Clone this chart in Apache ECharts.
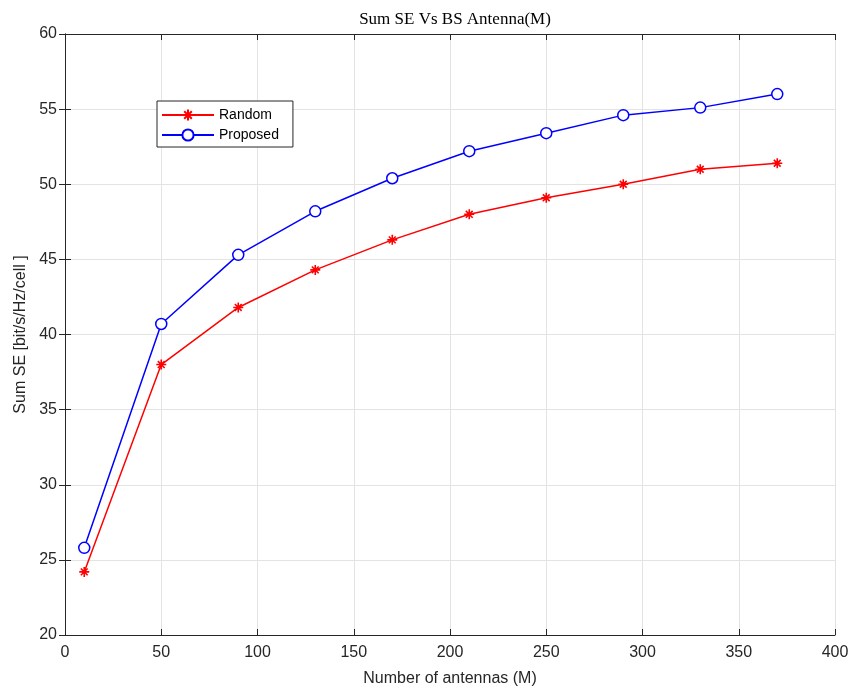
<!DOCTYPE html>
<html>
<head>
<meta charset="utf-8">
<script src="https://cdn.jsdelivr.net/npm/echarts@6/dist/echarts.min.js"></script>
<style>
  html, body { margin: 0; padding: 0; background: #fff; }
  #chart { width: 854px; height: 692px; }
</style>
</head>
<body>
<div id="chart"></div>
<script>
// antennas M
var antennas = [10, 50, 90, 130, 170, 210, 250, 290, 330, 370]
// sum SE per scheme
var randomSE = [24.2, 38.0, 41.8, 44.3, 46.3, 48.0, 49.1, 50.0, 51.0, 51.4]
var proposedSE = [25.8, 40.7, 45.3, 48.2, 50.4, 52.2, 53.4, 54.6, 55.1, 56.0]

var asterisk = 'path://M5,0L5,10M0,5L10,5M1.6,1.6L8.4,8.4M1.6,8.4L8.4,1.6'

function pairs(xs, ys) {
  return xs.map(function (x, i) { return [x, ys[i]] })
}

var axisCol = '#262626'
var chart = echarts.init(document.getElementById('chart'))

var option = {
  backgroundColor: '#fff',
  animation: false,
  title: {
    text: 'Sum SE Vs BS Antenna(M)',
    left: 450,
    textAlign: 'center',
    top: 6,
    textStyle: { fontFamily: 'Liberation Serif', fontWeight: 'normal', fontSize: 17, color: '#000' }
  },
  legend: {
    left: 157,
    top: 101,
    orient: 'vertical',
    itemWidth: 52,
    itemHeight: 14,
    itemGap: 6,
    padding: [7, 14, 5, 4],
    borderColor: '#262626',
    borderWidth: 1,
    backgroundColor: '#fff',
    textStyle: { fontFamily: 'Liberation Sans', fontSize: 14, color: '#000' },
    data: ['Random', 'Proposed']
  },
  grid: { left: 65, right: 19, top: 34, bottom: 56 },
  xAxis: [{
    type: 'value',
    min: 0, max: 400, interval: 50,
    name: 'Number of antennas (M)',
    nameLocation: 'middle',
    nameGap: 36,
    nameTextStyle: { fontFamily: 'Liberation Sans', fontSize: 16, color: axisCol },
    axisLine: { onZero: false, lineStyle: { color: axisCol } },
    axisTick: { inside: true, length: 6, lineStyle: { color: axisCol } },
    axisLabel: { fontFamily: 'Liberation Sans', fontSize: 16, color: axisCol, margin: 10 },
    splitLine: { show: true, lineStyle: { color: '#e3e3e3' } }
  }, {
    type: 'value', position: 'top',
    min: 0, max: 400, interval: 50,
    axisLine: { show: true, lineStyle: { color: axisCol } },
    axisTick: { inside: true, length: 6, lineStyle: { color: axisCol } },
    axisLabel: { show: false },
    splitLine: { show: false }
  }],
  yAxis: [{
    type: 'value',
    min: 20, max: 60, interval: 5,
    name: 'Sum SE [bit/s/Hz/cell ]',
    nameLocation: 'middle',
    nameGap: 35,
    nameTextStyle: { fontFamily: 'Liberation Sans', fontSize: 16, color: axisCol },
    axisLine: { show: true, lineStyle: { color: axisCol } },
    axisTick: { inside: true, length: 6, lineStyle: { color: axisCol } },
    axisLabel: { fontFamily: 'Liberation Sans', fontSize: 16, color: axisCol, margin: 8 },
    splitLine: { show: true, lineStyle: { color: '#e3e3e3' } }
  }, {
    type: 'value', position: 'right',
    min: 20, max: 60, interval: 5,
    axisLine: { show: true, lineStyle: { color: axisCol } },
    axisTick: { inside: true, length: 6, lineStyle: { color: axisCol } },
    axisLabel: { show: false },
    splitLine: { show: false }
  }],
  series: [{
    name: 'Random',
    type: 'line',
    data: pairs(antennas, randomSE),
    symbol: asterisk,
    symbolSize: 10,
    lineStyle: { color: '#ff0000', width: 1.5 },
    itemStyle: { color: '#ff0000', borderColor: '#ff0000', borderWidth: 1.6 }
  }, {
    name: 'Proposed',
    type: 'line',
    data: pairs(antennas, proposedSE),
    symbol: 'circle',
    symbolSize: 11,
    lineStyle: { color: '#0000ff', width: 1.5 },
    itemStyle: { color: '#fff', borderColor: '#0000ff', borderWidth: 1.5 }
  }]
}
chart.setOption(option)
</script>
</body>
</html>
